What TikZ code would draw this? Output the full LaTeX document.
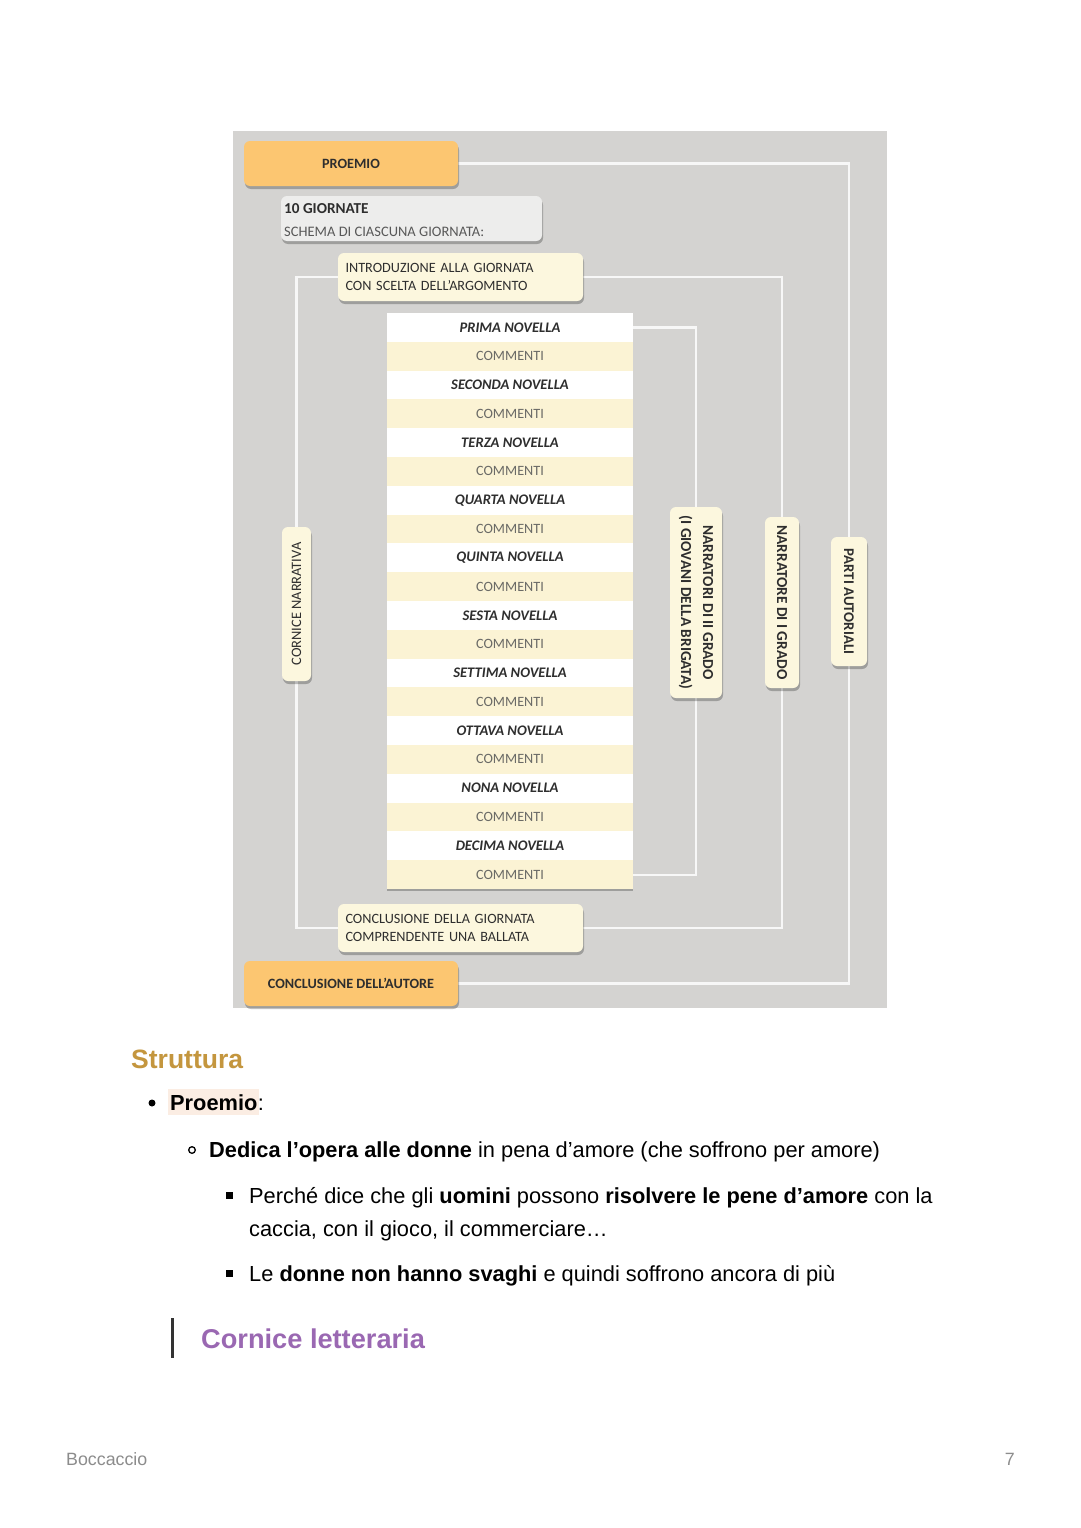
\documentclass[tikz,border=0pt]{standalone}
\usepackage{fontspec}
\setmainfont{Liberation Sans}
\newfontfamily\diag{Carlito}
\usetikzlibrary{shadows}
\definecolor{panelgray}{HTML}{D4D3D1}
\definecolor{orangebg}{HTML}{FCC671}
\definecolor{creambg}{HTML}{FCF7DE}
\definecolor{lightgray}{HTML}{EDEDEC}
\definecolor{rowcream}{HTML}{FBF3D4}
\definecolor{dtext}{HTML}{2E2E2E}
\definecolor{ctext}{HTML}{6A6A66}
\definecolor{gold}{HTML}{C4963E}
\definecolor{purp}{HTML}{9A68B2}
\definecolor{peach}{HTML}{FBEDE3}
\definecolor{footgray}{HTML}{8C8C8C}
\pgfdeclarelayer{panel}
\pgfdeclarelayer{lines}
\pgfsetlayers{panel,lines,main}
\tikzset{
  shad/.style={drop shadow={shadow xshift=1pt, shadow yshift=-3pt, opacity=0.25, fill=black}},
  boxbase/.style={rounded corners=6pt, shad, inner sep=0pt, text=dtext},
  orangebox/.style={boxbase, fill=orangebg, font=\diag\fontsize{14.2}{16}\selectfont\bfseries},
  creambox/.style={boxbase, fill=creambg, font=\diag\fontsize{14.2}{18}\selectfont},
  graybox/.style={boxbase, fill=lightgray},
  novrow/.style={fill=white, minimum width=246, minimum height=28.8, inner sep=0pt, text=dtext, font=\diag\fontsize{14.6}{16}\selectfont\bfseries\itshape, drop shadow={shadow xshift=0pt, shadow yshift=-1.5pt, opacity=0.25, fill=black}},
  comrow/.style={fill=rowcream, minimum width=246, minimum height=28.8, inner sep=0pt, text=ctext, font=\diag\fontsize{14.2}{16}\selectfont, drop shadow={shadow xshift=0pt, shadow yshift=-1.5pt, opacity=0.25, fill=black}},
  vlabel/.style={boxbase, fill=creambg, font=\diag\fontsize{15.3}{22}\selectfont\bfseries, align=center},
  conn/.style={draw=white!97!black, line width=2.2pt},
  body/.style={anchor=base west, inner sep=0pt, font=\fontsize{21.8}{25}\selectfont, text=black},
}
\begin{document}
\begin{tikzpicture}[x=1pt,y=-1pt]
\useasboundingbox (0,0) rectangle (1080,1528);
\begin{pgfonlayer}{panel}
\fill[white] (0,0) rectangle (1080,1528);
\fill[panelgray] (233,131) rectangle (887,1008);
\end{pgfonlayer}

% boxes
\node[orangebox, minimum width=214, minimum height=45] (proemio) at (351,163.5) {PROEMIO};
\node[graybox, minimum width=261, minimum height=45] (giorn) at (411.5,218.5) {};
\node[anchor=base west, inner sep=0pt, text=dtext, font=\diag\fontsize{15.2}{16}\selectfont\bfseries] (giornt) at (284,213) {10 GIORNATE};
\node[anchor=base west, inner sep=0pt, text=dtext!80, font=\diag\fontsize{14.5}{16}\selectfont] (schema) at (284,236) {SCHEMA DI CIASCUNA GIORNATA:};
\node[creambox, minimum width=245, minimum height=48, text width=230, align=left] (intro) at (460.5,277) {INTRODUZIONE ALLA GIORNATA\\CON SCELTA DELL’ARGOMENTO};

\foreach \n [count=\i] in {PRIMA,SECONDA,TERZA,QUARTA,QUINTA,SESTA,SETTIMA,OTTAVA,NONA,DECIMA}{
  \node[novrow] (nov\i) at (510,269.8+57.6*\i) {\n\ NOVELLA};
  \node[comrow] (com\i) at (510,298.6+57.6*\i) {COMMENTI};
}

\node[creambox, minimum width=245, minimum height=48, text width=230, align=left] (concg) at (460.5,928) {CONCLUSIONE DELLA GIORNATA\\COMPRENDENTE UNA BALLATA};
\node[orangebox, minimum width=214, minimum height=45] (concaut) at (351,983.5) {CONCLUSIONE DELL’AUTORE};

% vertical labels
\node[vlabel, rotate=-90, minimum width=191, minimum height=52] (nar2) at (696,602.5) {NARRATORI DI II GRADO\\(I GIOVANI DELLA BRIGATA)};
\node[vlabel, rotate=-90, minimum width=171, minimum height=34] (nar1) at (782,602.5) {NARRATORE DI I GRADO};
\node[vlabel, rotate=-90, minimum width=129, minimum height=36, font=\diag\fontsize{14.8}{16}\selectfont\bfseries] (parti) at (849,601.5) {PARTI AUTORIALI};
\node[vlabel, rotate=90, minimum width=154, minimum height=29, font=\diag\fontsize{14.4}{16}\selectfont] (cornice) at (296.5,604) {CORNICE NARRATIVA};

% connectors
\begin{pgfonlayer}{lines}
\draw[conn] (proemio.center) -| (parti.center) |- (concaut.center);
\draw[conn] (intro.center) -| (nar1.center) |- (concg.center);
\draw[conn] (intro.center) -| (cornice.center) |- (concg.center);
\draw[conn] (nov1.center) -| (nar2.center) |- (com10.center);
\end{pgfonlayer}

% text section
\node[anchor=base west, inner sep=0pt, text=gold, font=\fontsize{26.5}{30}\selectfont\bfseries] (strutt) at (131,1068) {Struttura};
\fill (152,1103) circle (3.5);
\node[body, fill=peach, inner xsep=2pt, inner ysep=5pt] (proemhl) at (168,1110) {\bfseries Proemio};
\node[body] (colon) at ([xshift=-2pt]proemhl.base east) {:};
\draw[line width=1.3pt] (192,1150) circle (3.3);
\node[body] (dedica) at (209,1157) {\textbf{Dedica l’opera alle donne} in pena d’amore (che soffrono per amore)};
\fill (225.5,1192) rectangle (232.5,1199);
\node[body] (perche) at (249,1203) {Perché dice che gli \textbf{uomini} possono \textbf{risolvere le pene d’amore} con la};
\node[body] (caccia) at (249,1236) {caccia, con il gioco, il commerciare…};
\fill (225.5,1270) rectangle (232.5,1277);
\node[body] (donne) at (249,1281) {Le \textbf{donne non hanno svaghi} e quindi soffrono ancora di più};
\fill[black!80] (170.5,1318) rectangle (174,1358);
\node[anchor=base west, inner sep=0pt, text=purp, font=\fontsize{27.2}{30}\selectfont\bfseries] (cornlet) at (201,1348) {Cornice letteraria};
\node[anchor=base west, inner sep=0pt, text=footgray, font=\fontsize{17.8}{20}\selectfont] (foot) at (66,1465) {Boccaccio};
\node[anchor=base east, inner sep=0pt, text=footgray, font=\fontsize{17.8}{20}\selectfont] (page) at (1015,1465) {7};
\end{tikzpicture}
\end{document}
